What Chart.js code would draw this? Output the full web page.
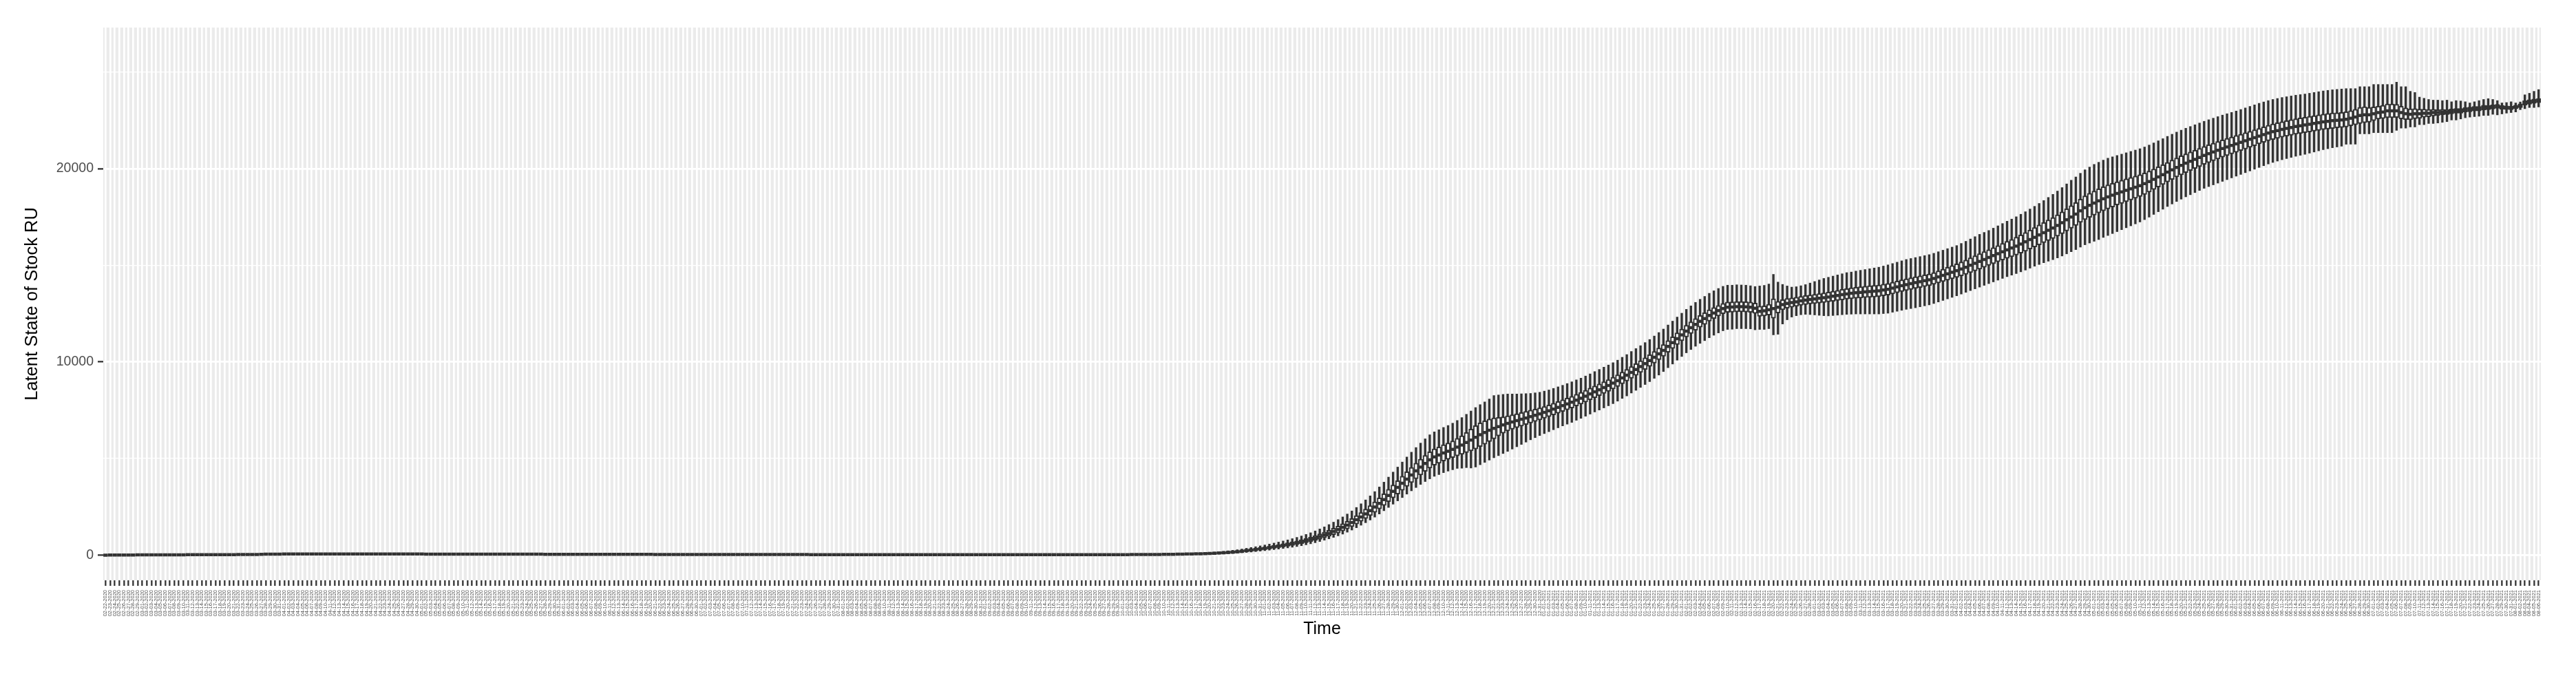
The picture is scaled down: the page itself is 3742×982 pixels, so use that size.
<!DOCTYPE html>
<html>
<head>
<meta charset="utf-8">
<script src="https://cdn.jsdelivr.net/npm/chart.js@4.4.1/dist/chart.umd.min.js"></script>
<style>
  html, body { margin: 0; padding: 0; background: #ffffff; }
  canvas { display: block; }
</style>
</head>
<body>
<canvas id="chart" width="3742" height="982"></canvas>
<script>
// one box per day, starting 02-22-2020
const startDate = Date.UTC(2020, 1, 22);

// medians
const median = [
  0, 5, 8, 10, 10, 12, 12, 14, 15, 15,
  16, 18, 18, 20, 20, 20, 22, 22, 24, 24,
  25, 25, 26, 26, 28, 28, 30, 30, 30, 32,
  32, 34, 36, 40, 45, 50, 52, 55, 55, 58,
  60, 60, 62, 62, 64, 64, 65, 65, 66, 66,
  66, 65, 65, 64, 64, 63, 63, 62, 62, 62,
  61, 61, 60, 60, 60, 59, 59, 58, 58, 58,
  57, 57, 56, 56, 56, 55, 55, 55, 54, 54,
  54, 53, 53, 53, 52, 52, 52, 51, 51, 51,
  50, 50, 50, 49, 49, 49, 48, 48, 48, 47,
  47, 47, 46, 46, 46, 45, 45, 45, 44, 44,
  44, 43, 43, 43, 42, 42, 42, 41, 41, 41,
  40, 40, 40, 40, 39, 39, 39, 38, 38, 38,
  38, 37, 37, 37, 36, 36, 36, 36, 35, 35,
  35, 35, 34, 34, 34, 34, 33, 33, 33, 33,
  32, 32, 32, 32, 31, 31, 31, 31, 30, 30,
  30, 30, 30, 29, 29, 29, 29, 28, 28, 28,
  28, 28, 27, 27, 27, 27, 27, 26, 26, 26,
  26, 26, 26, 25, 25, 25, 25, 25, 25, 25,
  25, 25, 25, 25, 25, 25, 25, 25, 25, 25,
  25, 25, 25, 25, 25, 25, 25, 26, 26, 26,
  26, 26, 27, 27, 27, 28, 28, 28, 29, 29,
  30, 30, 31, 31, 32, 33, 34, 35, 36, 38,
  40, 42, 44, 47, 50, 54, 58, 63, 68, 74,
  80, 90, 100, 112, 126, 142, 160, 182, 208, 236,
  265, 295, 327, 360, 395, 432, 470, 510, 552, 596,
  642, 695, 752, 815, 885, 962, 1045, 1135, 1230, 1330,
  1440, 1560, 1690, 1830, 1980, 2140, 2310, 2490, 2680, 2880,
  3090, 3300, 3510, 3720, 3940, 4150, 4360, 4560, 4750, 4930,
  5080, 5180, 5290, 5380, 5480, 5590, 5700, 5830, 5960, 6100,
  6230, 6350, 6460, 6560, 6650, 6740, 6820, 6890, 6960, 7030,
  7100, 7170, 7240, 7310, 7390, 7470, 7560, 7650, 7740, 7830,
  7920, 8020, 8120, 8230, 8340, 8450, 8560, 8670, 8780, 8900,
  9030, 9170, 9310, 9460, 9610, 9760, 9910, 10070, 10240, 10420,
  10600, 10800, 11000, 11200, 11400, 11590, 11770, 11940, 12100, 12240,
  12400, 12530, 12650, 12760, 12830, 12840, 12860, 12860, 12850, 12830,
  12780, 12620, 12640, 12700, 12760, 12830, 12960, 13030, 13070, 13110,
  13160, 13200, 13230, 13260, 13290, 13320, 13360, 13400, 13440, 13480,
  13520, 13550, 13580, 13600, 13620, 13640, 13660, 13680, 13720, 13760,
  13820, 13880, 13940, 14000, 14050, 14100, 14150, 14200, 14250, 14320,
  14400, 14480, 14560, 14640, 14720, 14810, 14900, 15000, 15100, 15200,
  15300, 15400, 15500, 15600, 15700, 15800, 15890, 15990, 16100, 16210,
  16330, 16450, 16570, 16690, 16810, 16930, 17060, 17200, 17350, 17500,
  17650, 17820, 17980, 18100, 18220, 18330, 18440, 18540, 18630, 18720,
  18800, 18880, 18960, 19040, 19120, 19220, 19330, 19450, 19570, 19690,
  19820, 19940, 20060, 20170, 20280, 20380, 20480, 20580, 20680, 20770,
  20860, 20950, 21040, 21120, 21200, 21280, 21360, 21440, 21520, 21600,
  21680, 21760, 21840, 21910, 21970, 22030, 22080, 22130, 22180, 22220,
  22260, 22300, 22340, 22380, 22420, 22450, 22480, 22500, 22520, 22550,
  22610, 22670, 22750, 22790, 22790, 22840, 22900, 22930, 22990, 22990,
  22990, 22900, 22840, 22810, 22840, 22840, 22870, 22870, 22900, 22900,
  22930, 22930, 22960, 22990, 22990, 23050, 23060, 23100, 23100, 23160,
  23160, 23190, 23220, 23170, 23150, 23140, 23190, 23250, 23400, 23450,
  23490, 23520
];

// distance from median up to the top of the whisker
const whiskerUp = [
  6, 8, 10, 12, 12, 14, 14, 15, 16, 16,
  18, 18, 18, 20, 20, 20, 20, 22, 22, 22,
  24, 24, 24, 24, 24, 24, 24, 24, 24, 24,
  24, 24, 24, 24, 24, 24, 24, 24, 24, 24,
  24, 24, 24, 24, 24, 24, 24, 24, 24, 24,
  24, 24, 24, 24, 24, 24, 24, 24, 24, 24,
  24, 24, 24, 24, 24, 24, 24, 24, 24, 24,
  24, 24, 24, 24, 24, 24, 24, 24, 24, 24,
  24, 24, 24, 24, 24, 24, 24, 24, 24, 24,
  24, 24, 24, 24, 24, 24, 24, 24, 24, 24,
  24, 24, 24, 24, 24, 24, 24, 24, 24, 24,
  24, 24, 24, 24, 24, 24, 24, 24, 24, 24,
  24, 24, 24, 24, 24, 24, 24, 24, 24, 24,
  24, 24, 24, 24, 24, 24, 24, 24, 24, 24,
  24, 24, 24, 24, 24, 24, 24, 24, 24, 24,
  24, 24, 24, 24, 24, 24, 24, 24, 24, 24,
  24, 24, 24, 24, 24, 24, 24, 24, 24, 24,
  24, 24, 24, 24, 24, 24, 24, 24, 24, 24,
  24, 24, 24, 24, 24, 24, 24, 24, 24, 24,
  24, 24, 24, 24, 24, 24, 24, 24, 24, 24,
  24, 24, 24, 24, 24, 24, 24, 24, 24, 24,
  24, 24, 24, 24, 24, 24, 24, 24, 24, 24,
  24, 24, 24, 24, 24, 24, 24, 24, 24, 24,
  26, 28, 30, 32, 34, 36, 40, 44, 48, 52,
  56, 60, 66, 72, 78, 86, 94, 102, 112, 122,
  132, 144, 156, 168, 180, 195, 210, 225, 240, 260,
  280, 300, 322, 345, 370, 395, 420, 450, 480, 510,
  540, 570, 600, 640, 680, 720, 760, 800, 850, 900,
  950, 1000, 1050, 1100, 1140, 1180, 1210, 1240, 1270, 1300,
  1300, 1310, 1320, 1330, 1350, 1380, 1420, 1460, 1500, 1540,
  1560, 1580, 1620, 1700, 1640, 1580, 1520, 1450, 1380, 1320,
  1260, 1200, 1160, 1120, 1100, 1080, 1070, 1060, 1050, 1050,
  1050, 1050, 1040, 1040, 1040, 1050, 1050, 1060, 1060, 1060,
  1060, 1070, 1070, 1080, 1080, 1080, 1090, 1090, 1100, 1100,
  1100, 1110, 1110, 1120, 1120, 1130, 1130, 1140, 1140, 1150,
  1150, 1150, 1150, 1150, 1140, 1130, 1130, 1120, 1120, 1110,
  1120, 1310, 1320, 1330, 1770, 1300, 1050, 900, 800, 780,
  780, 800, 850, 900, 950, 1000, 1020, 1040, 1060, 1080,
  1100, 1100, 1120, 1140, 1160, 1180, 1200, 1220, 1240, 1260,
  1270, 1280, 1290, 1300, 1300, 1300, 1300, 1300, 1300, 1300,
  1300, 1300, 1300, 1300, 1300, 1320, 1340, 1360, 1380, 1400,
  1400, 1400, 1420, 1440, 1460, 1480, 1500, 1520, 1540, 1560,
  1580, 1600, 1630, 1660, 1700, 1740, 1780, 1820, 1860, 1900,
  1920, 1940, 1960, 1980, 2000, 2000, 2000, 2000, 1980, 1960,
  1950, 1940, 1930, 1920, 1910, 1900, 1890, 1880, 1870, 1860,
  1850, 1840, 1830, 1820, 1810, 1800, 1790, 1780, 1770, 1760,
  1750, 1740, 1730, 1720, 1710, 1700, 1700, 1700, 1700, 1700,
  1700, 1690, 1680, 1670, 1660, 1650, 1640, 1630, 1620, 1610,
  1600, 1600, 1600, 1600, 1600, 1600, 1600, 1600, 1600, 1590,
  1530, 1470, 1490, 1450, 1450, 1515, 1455, 1425, 1365, 1365,
  1485, 1340, 1400, 1190, 1100, 860, 770, 710, 645, 645,
  590, 615, 500, 530, 510, 410, 340, 360, 420, 420,
  460, 390, 300, 230, 270, 320, 210, 200, 420, 450,
  510, 570
];

// distance from median down to the bottom of the whisker
const whiskerDown = [
  5, 6, 8, 10, 10, 12, 12, 12, 14, 14,
  15, 15, 16, 16, 18, 18, 18, 18, 20, 20,
  20, 20, 20, 20, 20, 20, 20, 20, 20, 20,
  20, 20, 20, 20, 20, 20, 20, 20, 20, 20,
  20, 20, 20, 20, 20, 20, 20, 20, 20, 20,
  20, 20, 20, 20, 20, 20, 20, 20, 20, 20,
  20, 20, 20, 20, 20, 20, 20, 20, 20, 20,
  20, 20, 20, 20, 20, 20, 20, 20, 20, 20,
  20, 20, 20, 20, 20, 20, 20, 20, 20, 20,
  20, 20, 20, 20, 20, 20, 20, 20, 20, 20,
  20, 20, 20, 20, 20, 20, 20, 20, 20, 20,
  20, 20, 20, 20, 20, 20, 20, 20, 20, 20,
  20, 20, 20, 20, 20, 20, 20, 20, 20, 20,
  20, 20, 20, 20, 20, 20, 20, 20, 20, 20,
  20, 20, 20, 20, 20, 20, 20, 20, 20, 20,
  20, 20, 20, 20, 20, 20, 20, 20, 20, 20,
  20, 20, 20, 20, 20, 20, 20, 20, 20, 20,
  20, 20, 20, 20, 20, 20, 20, 20, 20, 20,
  20, 20, 20, 20, 20, 20, 20, 20, 20, 20,
  20, 20, 20, 20, 20, 20, 20, 20, 20, 20,
  20, 20, 20, 20, 20, 20, 20, 20, 20, 20,
  20, 20, 20, 20, 20, 20, 20, 20, 20, 20,
  20, 20, 20, 20, 20, 20, 20, 20, 20, 20,
  22, 24, 26, 28, 30, 32, 34, 36, 40, 44,
  48, 52, 56, 60, 65, 70, 76, 82, 88, 95,
  102, 110, 118, 126, 135, 145, 155, 165, 175, 185,
  195, 205, 215, 225, 240, 255, 270, 290, 310, 330,
  350, 370, 390, 410, 430, 460, 490, 520, 550, 580,
  620, 660, 700, 740, 780, 820, 860, 900, 940, 980,
  1000, 1010, 1020, 1030, 1060, 1100, 1200, 1300, 1450, 1540,
  1550, 1550, 1540, 1520, 1500, 1480, 1450, 1400, 1350, 1300,
  1250, 1200, 1160, 1120, 1100, 1080, 1070, 1060, 1050, 1050,
  1050, 1040, 1040, 1040, 1040, 1040, 1050, 1050, 1050, 1060,
  1060, 1060, 1070, 1070, 1080, 1080, 1080, 1090, 1090, 1100,
  1100, 1100, 1110, 1110, 1120, 1120, 1130, 1130, 1140, 1140,
  1150, 1150, 1150, 1150, 1150, 1150, 1140, 1140, 1130, 1120,
  1120, 940, 960, 980, 1360, 1400, 1000, 850, 750, 720,
  720, 740, 780, 830, 880, 930, 980, 1000, 1020, 1040,
  1060, 1080, 1100, 1120, 1140, 1160, 1180, 1200, 1220, 1240,
  1250, 1260, 1270, 1280, 1290, 1300, 1300, 1300, 1300, 1300,
  1300, 1300, 1300, 1300, 1300, 1300, 1300, 1310, 1320, 1330,
  1340, 1350, 1360, 1370, 1380, 1390, 1400, 1420, 1440, 1460,
  1480, 1500, 1530, 1560, 1600, 1640, 1680, 1720, 1760, 1800,
  1840, 1880, 1920, 1950, 1980, 2000, 2000, 2000, 1990, 1980,
  1960, 1940, 1920, 1900, 1880, 1860, 1840, 1820, 1800, 1790,
  1780, 1770, 1760, 1750, 1740, 1730, 1720, 1710, 1700, 1700,
  1700, 1700, 1700, 1690, 1680, 1670, 1660, 1650, 1640, 1630,
  1620, 1610, 1600, 1590, 1580, 1570, 1560, 1550, 1540, 1530,
  1520, 1500, 1480, 1460, 1440, 1420, 1400, 1380, 1360, 1290,
  1345, 1405, 950, 990, 990, 980, 1040, 1070, 1130, 1130,
  1010, 805, 745, 655, 685, 565, 595, 535, 565, 540,
  535, 500, 445, 475, 420, 420, 395, 410, 390, 410,
  410, 380, 440, 340, 280, 240, 260, 200, 300, 290,
  330, 330
];

// half of the interquartile box
const boxHalf = [
  6, 6, 6, 6, 6, 6, 6, 6, 6, 6,
  6, 6, 6, 6, 6, 6, 6, 6, 6, 6,
  6, 6, 6, 6, 6, 6, 6, 6, 6, 6,
  6, 6, 6, 6, 6, 6, 6, 6, 6, 6,
  6, 6, 6, 6, 6, 6, 6, 6, 6, 6,
  6, 6, 6, 6, 6, 6, 6, 6, 6, 6,
  6, 6, 6, 6, 6, 6, 6, 6, 6, 6,
  6, 6, 6, 6, 6, 6, 6, 6, 6, 6,
  6, 6, 6, 6, 6, 6, 6, 6, 6, 6,
  6, 6, 6, 6, 6, 6, 6, 6, 6, 6,
  6, 6, 6, 6, 6, 6, 6, 6, 6, 6,
  6, 6, 6, 6, 6, 6, 6, 6, 6, 6,
  6, 6, 6, 6, 6, 6, 6, 6, 6, 6,
  6, 6, 6, 6, 6, 6, 6, 6, 6, 6,
  6, 6, 6, 6, 6, 6, 6, 6, 6, 6,
  6, 6, 6, 6, 6, 6, 6, 6, 6, 6,
  6, 6, 6, 6, 6, 6, 6, 6, 6, 6,
  6, 6, 6, 6, 6, 6, 6, 6, 6, 6,
  6, 6, 6, 6, 6, 6, 6, 6, 6, 6,
  6, 6, 6, 6, 6, 6, 6, 6, 6, 6,
  6, 6, 6, 6, 6, 6, 6, 6, 6, 6,
  6, 6, 6, 6, 6, 6, 6, 6, 6, 6,
  6, 6, 6, 6, 6, 6, 6, 6, 6, 6,
  8, 8, 9, 10, 11, 12, 13, 14, 16, 18,
  20, 22, 24, 26, 28, 30, 33, 36, 40, 44,
  48, 52, 56, 60, 65, 70, 75, 80, 86, 92,
  98, 105, 112, 120, 128, 136, 145, 155, 165, 175,
  185, 195, 205, 215, 225, 240, 255, 270, 285, 300,
  315, 330, 345, 360, 375, 390, 400, 410, 415, 420,
  420, 420, 420, 420, 430, 450, 480, 520, 560, 600,
  610, 600, 580, 540, 480, 420, 390, 370, 360, 350,
  340, 330, 320, 310, 300, 300, 300, 300, 300, 300,
  300, 300, 300, 300, 300, 300, 300, 300, 300, 300,
  300, 300, 300, 300, 300, 300, 300, 300, 300, 300,
  300, 300, 300, 300, 300, 300, 300, 300, 300, 300,
  290, 280, 270, 265, 265, 265, 265, 265, 265, 265,
  265, 260, 260, 280, 500, 300, 260, 250, 240, 230,
  230, 230, 230, 240, 240, 250, 250, 260, 260, 270,
  270, 280, 280, 290, 290, 300, 300, 300, 300, 300,
  300, 300, 300, 300, 300, 300, 300, 300, 300, 300,
  310, 320, 330, 340, 350, 360, 370, 380, 390, 400,
  400, 400, 410, 420, 430, 440, 450, 460, 470, 480,
  490, 500, 510, 520, 530, 540, 550, 560, 570, 580,
  590, 600, 610, 620, 620, 620, 620, 620, 610, 600,
  600, 590, 580, 570, 560, 550, 540, 530, 520, 510,
  500, 500, 490, 490, 480, 480, 470, 470, 460, 460,
  450, 450, 440, 440, 430, 430, 420, 420, 410, 410,
  400, 400, 400, 400, 400, 400, 400, 400, 400, 400,
  400, 400, 400, 400, 400, 400, 400, 390, 390, 390,
  390, 400, 415, 410, 380, 350, 330, 340, 356, 350,
  340, 327, 300, 280, 260, 240, 210, 190, 170, 150,
  140, 130, 125, 120, 120, 120, 120, 120, 120, 120,
  115, 110, 105, 100, 95, 90, 90, 100, 110, 120,
  110, 107
];

// y gridlines (every 5000) and the ones that carry a label
const yGridValues = [0, 5000, 10000, 15000, 20000, 25000];
const yLabelTicks = [0, 10000, 20000];
const fontFamily = "'Liberation Sans', Arial, Helvetica, sans-serif";

[whiskerUp, whiskerDown, boxHalf].forEach((arr) => {
    if (arr.length !== median.length) {
        throw new Error('length mismatch ' + arr.length + ' vs ' + median.length);
    }
});

// MM-DD-YYYY labels, one per day
const dayLabels = median.map((m, i) => {
    const d = new Date(startDate + i * 86400000);
    const mm = String(d.getUTCMonth() + 1).padStart(2, '0');
    const dd = String(d.getUTCDate()).padStart(2, '0');
    return `${mm}-${dd}-${d.getUTCFullYear()}`;
});

const boxData = median.map((m, i) => [m - boxHalf[i], m + boxHalf[i]]);
const whiskerData = median.map((m, i) => [m - whiskerDown[i], m + whiskerUp[i]]);

// grey panel behind the grid
const panelBackground = {
    id: 'panelBackground',
    beforeDraw(chart) {
        const { ctx, chartArea } = chart;
        ctx.save();
        ctx.fillStyle = '#EBEBEB';
        ctx.fillRect(chartArea.left, chartArea.top,
            chartArea.right - chartArea.left, chartArea.bottom - chartArea.top);
        ctx.restore();
    }
};

const ctx = document.getElementById('chart').getContext('2d');
let myChart = new Chart(ctx, {
    type: 'bar',
    data: {
        labels: dayLabels,
        datasets: [
            {
                type: 'line',
                label: 'median',
                data: median,
                showLine: false,
                pointStyle: 'line',
                pointRadius: 3.2,
                pointBorderWidth: 4.5,
                pointBorderColor: '#333333',
                pointBackgroundColor: '#333333',
                order: 1
            },
            {
                label: 'box',
                data: boxData,
                backgroundColor: '#ffffff',
                borderColor: '#333333',
                borderWidth: 2,
                borderSkipped: false,
                barThickness: 6.4,
                grouped: false,
                order: 2
            },
            {
                label: 'whisker',
                data: whiskerData,
                backgroundColor: '#333333',
                borderWidth: 0,
                barThickness: 2.7,
                grouped: false,
                order: 3
            }
        ]
    },
    options: {
        responsive: false,
        animation: false,
        devicePixelRatio: 1,
        layout: { padding: { top: 40, right: 51, bottom: 0, left: 0 } },
        plugins: {
            legend: { display: false },
            tooltip: { enabled: false }
        },
        scales: {
            x: {
                type: 'category',
                offset: true,
                border: { display: false },
                grid: {
                    offset: false,
                    color: '#ffffff',
                    lineWidth: 2.7,
                    drawTicks: true,
                    tickColor: '#333333',
                    tickWidth: 2.3,
                    tickLength: 8
                },
                ticks: {
                    autoSkip: false,
                    minRotation: 90,
                    maxRotation: 90,
                    padding: 6,
                    color: '#4D4D4D',
                    font: { size: 7.5, family: fontFamily }
                },
                title: {
                    display: true,
                    text: 'Time',
                    color: '#000000',
                    font: { size: 25, family: fontFamily },
                    padding: { top: 0, bottom: 53 }
                },
                afterFit: (scale) => { scale.height = 139; }
            },
            y: {
                type: 'linear',
                min: -1300,
                max: 27300,
                border: { display: false },
                afterBuildTicks: (scale) => {
                    scale.ticks = yGridValues.map((v) => ({ value: v }));
                },
                grid: {
                    color: '#ffffff',
                    lineWidth: (c) => (c.tick && yLabelTicks.includes(c.tick.value)) ? 2.7 : 1.35,
                    drawTicks: true,
                    tickColor: (c) => (c.tick && yLabelTicks.includes(c.tick.value)) ? '#333333' : 'rgba(0,0,0,0)',
                    tickWidth: 2.3,
                    tickLength: 8
                },
                ticks: {
                    padding: 6,
                    color: '#4D4D4D',
                    font: { size: 19.5, family: fontFamily },
                    callback: function (value) {
                        return yLabelTicks.includes(value) ? String(value) : '';
                    }
                },
                title: {
                    display: true,
                    text: 'Latent State of Stock RU',
                    color: '#000000',
                    font: { size: 25.5, family: fontFamily },
                    padding: { top: 32, bottom: 0 }
                },
                afterFit: (scale) => { scale.width = 150; }
            }
        }
    },
    plugins: [panelBackground]
});
</script>
</body>
</html>
